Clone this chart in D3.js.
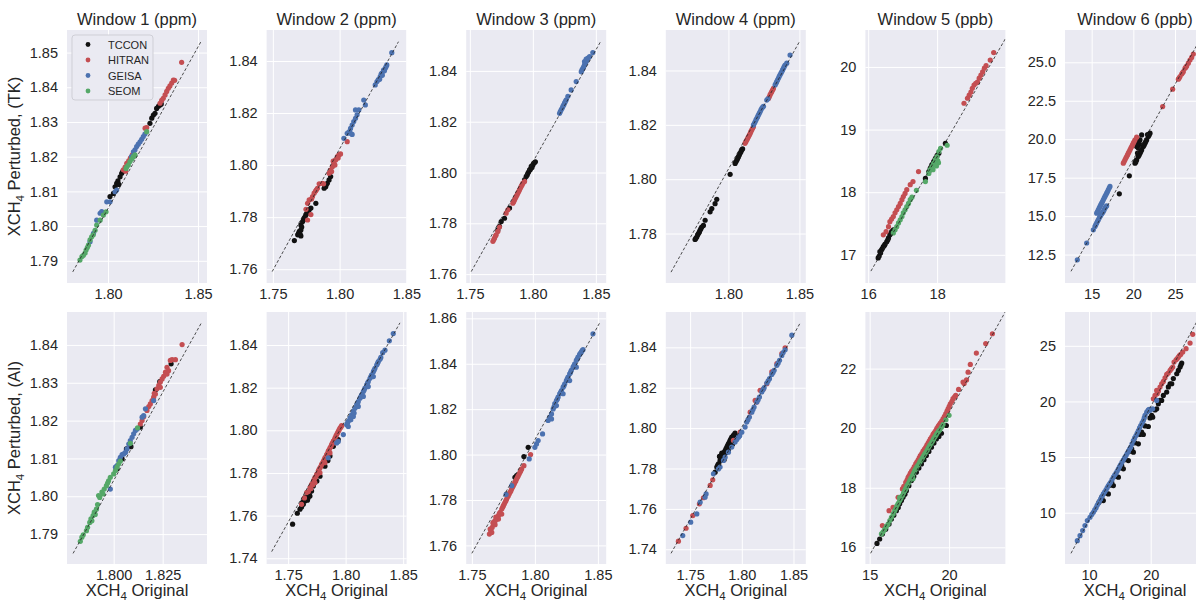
<!DOCTYPE html>
<html>
<head>
<meta charset="utf-8">
<script src="https://cdn.jsdelivr.net/npm/d3@7"></script>
<style>
  body { margin: 0; background: #fff; }
  text { font-family: "Liberation Sans", Arial, sans-serif; fill: #262626; }
</style>
</head>
<body>
<svg width="1196" height="602"></svg>
<script>
const sources = ['TCCON', 'HITRAN', 'GEISA', 'SEOM']
const colors = ['#111111', '#C44E52', '#4C72B0', '#55A868']
const titles = ['Window 1 (ppm)', 'Window 2 (ppm)', 'Window 3 (ppm)', 'Window 4 (ppm)', 'Window 5 (ppb)', 'Window 6 (ppb)']
const rowLabels = ['(TK)', '(AI)']

// axis limits, ticks and dashed reference line, one entry per panel (row 1 then row 2)
const xDomains = [[1.7772, 1.8550], [1.7453, 1.8502], [1.7471, 1.8582], [1.7559, 1.8545], [15.92, 19.98], [11.8, 28.6],
  [1.7762, 1.8476], [1.7313, 1.8530], [1.7455, 1.8566], [1.7265, 1.8619], [14.73, 23.55], [6.11, 28.8]]
const yDomains = [[1.7836, 1.8565], [1.7547, 1.8519], [1.7565, 1.8561], [1.7618, 1.8549], [16.55, 20.59], [10.65, 27.1],
  [1.7821, 1.8487], [1.7373, 1.8555], [1.7518, 1.8628], [1.7327, 1.8575], [15.44, 23.90], [5.39, 28.04]]
const xTicks = [[1.80, 1.85], [1.75, 1.80, 1.85], [1.75, 1.80, 1.85], [1.80, 1.85], [16, 18], [15, 20, 25],
  [1.800, 1.825], [1.75, 1.80, 1.85], [1.75, 1.80, 1.85], [1.75, 1.80, 1.85], [15, 20], [10, 20]]
const yTicks = [[1.79, 1.80, 1.81, 1.82, 1.83, 1.84, 1.85], [1.76, 1.78, 1.80, 1.82, 1.84], [1.76, 1.78, 1.80, 1.82, 1.84],
  [1.78, 1.80, 1.82, 1.84], [17, 18, 19, 20], [12.5, 15, 17.5, 20, 22.5, 25],
  [1.79, 1.80, 1.81, 1.82, 1.83, 1.84], [1.74, 1.76, 1.78, 1.80, 1.82, 1.84], [1.76, 1.78, 1.80, 1.82, 1.84, 1.86],
  [1.74, 1.76, 1.78, 1.80, 1.82, 1.84], [16, 18, 20, 22], [10, 15, 20, 25]]
const xFormats = ['.2f', '.2f', '.2f', '.2f', 'd', 'd', '.3f', '.2f', '.2f', '.2f', 'd', 'd']
const yFormats = ['.2f', '.2f', '.2f', '.2f', 'd', '.1f', '.2f', '.2f', '.2f', '.2f', 'd', 'd']
const refLines = [
  [[1.7804, 1.7868], [1.8517, 1.8532]], [[1.7495, 1.7591], [1.8441, 1.8474]], [[1.7511, 1.7610], [1.8537, 1.8515]],
  [[1.7596, 1.7658], [1.8500, 1.8506]], [[16.08, 16.74], [20.0, 20.47]], [[12.52, 11.41], [28.5, 26.97]],
  [[1.7793, 1.7849], [1.8447, 1.8458]], [[1.7357, 1.7431], [1.8472, 1.8504]], [[1.7500, 1.7565], [1.8513, 1.8579]],
  [[1.7316, 1.7380], [1.8565, 1.8521]], [[15.06, 15.80], [23.6, 23.96]], [[7.08, 6.35], [28.5, 28.22]]]

// scatter points [original, perturbed]
const w1tk = {
  TCCON: [[1.8030, 1.8094], [1.8039, 1.8113], [1.8048, 1.8123], [1.8055, 1.8130], [1.8067, 1.8142], [1.8076, 1.8152], [1.8082, 1.8158], [1.8011, 1.8085], [1.8233, 1.8296], [1.8243, 1.8311], [1.8252, 1.8320], [1.8261, 1.8325], [1.8270, 1.8339], [1.8280, 1.8345], [1.8289, 1.8349], [1.8296, 1.8352], [1.8060, 1.8120]],
  HITRAN: [[1.8085, 1.8162], [1.8095, 1.8170], [1.8104, 1.8181], [1.8115, 1.8188], [1.8124, 1.8196], [1.8135, 1.8205], [1.8206, 1.8282], [1.8215, 1.8284], [1.8289, 1.8354], [1.8298, 1.8362], [1.8307, 1.8368], [1.8317, 1.8378], [1.8326, 1.8388], [1.8335, 1.8397], [1.8344, 1.8404], [1.8354, 1.8412], [1.8363, 1.8421], [1.8370, 1.8420], [1.8409, 1.8472], [1.8098, 1.8158]],
  GEISA: [[1.7919, 1.7979], [1.7937, 1.8017], [1.7956, 1.8037], [1.7965, 1.8042], [1.7993, 1.8070], [1.8011, 1.8070], [1.8039, 1.8099], [1.8048, 1.8104], [1.8141, 1.8214], [1.8150, 1.8220], [1.8159, 1.8229], [1.8168, 1.8236], [1.8178, 1.8243], [1.8187, 1.8250], [1.8196, 1.8258], [1.8205, 1.8265], [1.7900, 1.7955], [1.8130, 1.8200]],
  SEOM: [[1.7844, 1.7902], [1.7855, 1.7912], [1.7863, 1.7916], [1.7878, 1.7931], [1.7885, 1.7938], [1.7891, 1.7945], [1.7900, 1.7960], [1.7909, 1.7969], [1.7918, 1.7975], [1.7928, 1.7988], [1.7937, 1.8003], [1.7956, 1.8017], [1.7974, 1.8032], [1.7989, 1.8041], [1.8100, 1.8166], [1.8104, 1.8171], [1.8113, 1.8176], [1.8122, 1.8186], [1.8132, 1.8193], [1.8141, 1.8200], [1.8150, 1.8205], [1.8215, 1.8272], [1.7872, 1.7922]]
}
const w2tk = {
  TCCON: [[1.7661, 1.7710], [1.7686, 1.7732], [1.7692, 1.7738], [1.7698, 1.7745], [1.7710, 1.7751], [1.7710, 1.7728], [1.7704, 1.7735], [1.7710, 1.7770], [1.7723, 1.7783], [1.7730, 1.7790], [1.7735, 1.7796], [1.7748, 1.7809], [1.7755, 1.7815], [1.7760, 1.7818], [1.7772, 1.7828], [1.7785, 1.7835], [1.7822, 1.7853], [1.7884, 1.7911], [1.7896, 1.7917], [1.7908, 1.7930], [1.7921, 1.7943], [1.7933, 1.7956], [1.7900, 1.7925], [1.7716, 1.7762], [1.7741, 1.7801], [1.7890, 1.7920]],
  HITRAN: [[1.7748, 1.7830], [1.7760, 1.7853], [1.7772, 1.7866], [1.7790, 1.7870], [1.7797, 1.7879], [1.7809, 1.7892], [1.7820, 1.7900], [1.7834, 1.7911], [1.7847, 1.7928], [1.7871, 1.7930], [1.7880, 1.7928], [1.7921, 1.7969], [1.7933, 1.7981], [1.7946, 1.7994], [1.7958, 1.8007], [1.7970, 1.8020], [1.7983, 1.8033], [1.7995, 1.8039], [1.8007, 1.8043], [1.8057, 1.8090], [1.7760, 1.7789], [1.7785, 1.7810], [1.7940, 1.7975], [1.7965, 1.8000], [1.7826, 1.7905], [1.7952, 1.8015], [1.7989, 1.8027]],
  GEISA: [[1.8032, 1.8103], [1.8057, 1.8122], [1.8070, 1.8128], [1.8082, 1.8141], [1.8094, 1.8154], [1.8106, 1.8167], [1.8119, 1.8180], [1.8131, 1.8193], [1.8119, 1.8212], [1.8144, 1.8212], [1.8181, 1.8250], [1.8193, 1.8231], [1.8267, 1.8308], [1.8280, 1.8321], [1.8290, 1.8328], [1.8304, 1.8340], [1.8317, 1.8353], [1.8329, 1.8365], [1.8342, 1.8372], [1.8354, 1.8385], [1.8391, 1.8432], [1.8082, 1.8122], [1.8094, 1.8118], [1.8300, 1.8330], [1.8320, 1.8345], [1.8311, 1.8350], [1.8336, 1.8362], [1.8348, 1.8378]],
  SEOM: []
}
const w3tk = {
  TCCON: [[1.7722, 1.7774], [1.7735, 1.7788], [1.7749, 1.7807], [1.7775, 1.7820], [1.7815, 1.7860], [1.7934, 1.7971], [1.7947, 1.7984], [1.7955, 1.7990], [1.7960, 1.7997], [1.7967, 1.8003], [1.7974, 1.8010], [1.7987, 1.8024], [1.8000, 1.8030], [1.8013, 1.8039], [1.8020, 1.8042], [1.7980, 1.8012], [1.7993, 1.8020], [1.8006, 1.8036]],
  HITRAN: [[1.7683, 1.7729], [1.7690, 1.7736], [1.7696, 1.7742], [1.7703, 1.7750], [1.7709, 1.7755], [1.7722, 1.7768], [1.7735, 1.7785], [1.7788, 1.7840], [1.7802, 1.7853], [1.7841, 1.7879], [1.7848, 1.7885], [1.7854, 1.7892], [1.7861, 1.7899], [1.7868, 1.7906], [1.7875, 1.7912], [1.7881, 1.7919], [1.7888, 1.7925], [1.7894, 1.7932], [1.7900, 1.7938], [1.7907, 1.7945], [1.7914, 1.7951], [1.7921, 1.7958], [1.7934, 1.7965]],
  GEISA: [[1.8212, 1.8233], [1.8218, 1.8240], [1.8225, 1.8247], [1.8232, 1.8253], [1.8238, 1.8260], [1.8245, 1.8266], [1.8251, 1.8273], [1.8258, 1.8280], [1.8265, 1.8286], [1.8278, 1.8300], [1.8304, 1.8325], [1.8344, 1.8358], [1.8384, 1.8397], [1.8390, 1.8404], [1.8397, 1.8410], [1.8404, 1.8417], [1.8410, 1.8424], [1.8417, 1.8430], [1.8423, 1.8437], [1.8430, 1.8444], [1.8437, 1.8450], [1.8450, 1.8456], [1.8476, 1.8472], [1.8410, 1.8437], [1.8423, 1.8446]],
  SEOM: []
}
const w4tk = {
  TCCON: [[1.7765, 1.7778], [1.7770, 1.7782], [1.7777, 1.7787], [1.7783, 1.7795], [1.7789, 1.7800], [1.7795, 1.7805], [1.7800, 1.7812], [1.7806, 1.7818], [1.7812, 1.7824], [1.7824, 1.7830], [1.7836, 1.7849], [1.7871, 1.7880], [1.7883, 1.7892], [1.7906, 1.7910], [1.7918, 1.7926], [1.8012, 1.8018], [1.8047, 1.8058], [1.8053, 1.8064], [1.8059, 1.8070], [1.8065, 1.8076], [1.8070, 1.8082], [1.8076, 1.8088], [1.8082, 1.8095], [1.8088, 1.8101], [1.8094, 1.8107], [1.8100, 1.8112]],
  HITRAN: [[1.8117, 1.8132], [1.8123, 1.8138], [1.8129, 1.8144], [1.8135, 1.8150], [1.8141, 1.8156], [1.8147, 1.8162], [1.8153, 1.8168], [1.8158, 1.8175], [1.8164, 1.8181], [1.8170, 1.8187], [1.8176, 1.8193], [1.8282, 1.8297], [1.8288, 1.8303], [1.8293, 1.8310], [1.8299, 1.8316], [1.8305, 1.8322], [1.8311, 1.8328], [1.8317, 1.8334]],
  GEISA: [[1.8176, 1.8199], [1.8182, 1.8205], [1.8188, 1.8211], [1.8194, 1.8218], [1.8200, 1.8224], [1.8206, 1.8230], [1.8211, 1.8236], [1.8217, 1.8242], [1.8223, 1.8248], [1.8229, 1.8255], [1.8235, 1.8261], [1.8241, 1.8265], [1.8247, 1.8268], [1.8270, 1.8291], [1.8278, 1.8296], [1.8329, 1.8347], [1.8335, 1.8353], [1.8340, 1.8359], [1.8346, 1.8365], [1.8352, 1.8371], [1.8358, 1.8378], [1.8364, 1.8384], [1.8370, 1.8390], [1.8376, 1.8396], [1.8382, 1.8402], [1.8387, 1.8408], [1.8393, 1.8414], [1.8399, 1.8420], [1.8411, 1.8427], [1.8434, 1.8457]],
  SEOM: []
}
const w5tk = {
  TCCON: [[16.29, 16.95], [16.32, 16.98], [16.36, 17.03], [16.39, 17.08], [16.44, 17.13], [16.49, 17.17], [16.54, 17.21], [16.59, 17.27], [16.63, 17.32], [16.68, 17.37], [16.73, 17.40], [17.66, 18.22], [17.76, 18.33], [17.80, 18.38], [17.85, 18.44], [17.90, 18.49], [17.95, 18.54], [18.00, 18.59], [18.05, 18.62], [18.24, 18.78], [16.34, 17.05], [16.41, 17.10], [16.47, 17.15], [16.57, 17.24], [16.66, 17.34], [17.83, 18.41], [17.93, 18.51]],
  HITRAN: [[16.44, 17.32], [16.52, 17.37], [16.59, 17.45], [16.63, 17.53], [16.68, 17.57], [16.73, 17.61], [16.78, 17.67], [16.83, 17.72], [16.88, 17.77], [16.93, 17.82], [16.98, 17.88], [17.02, 17.93], [17.07, 17.98], [17.12, 18.04], [17.22, 18.12], [17.30, 18.17], [17.46, 18.33], [18.78, 19.42], [18.88, 19.50], [18.93, 19.55], [18.98, 19.60], [19.02, 19.66], [19.07, 19.71], [19.12, 19.74], [19.17, 19.76], [19.22, 19.82], [19.27, 19.87], [19.32, 19.92], [19.37, 19.98], [19.42, 20.02], [19.54, 20.11], [19.64, 20.23]],
  GEISA: [],
  SEOM: [[16.73, 17.35], [16.78, 17.40], [16.83, 17.45], [16.88, 17.51], [16.93, 17.56], [16.98, 17.61], [17.02, 17.67], [17.07, 17.72], [17.12, 17.77], [17.17, 17.82], [17.22, 17.88], [17.27, 17.92], [17.40, 18.03], [17.66, 18.17], [17.76, 18.30], [17.80, 18.36], [17.85, 18.41], [17.90, 18.46], [17.95, 18.52], [18.00, 18.57], [18.05, 18.65], [18.10, 18.70], [18.29, 18.75], [18.02, 18.50], [17.98, 18.42], [17.88, 18.36], [18.04, 18.47]]
}
const w6tk = {
  TCCON: [[18.32, 16.45], [19.52, 17.62], [20.20, 18.44], [20.40, 18.66], [20.60, 18.87], [20.80, 19.09], [21.00, 19.31], [21.20, 19.52], [21.40, 19.74], [21.60, 19.96], [21.80, 20.17], [22.00, 20.39], [20.40, 19.52], [20.60, 19.74], [20.80, 19.96], [21.00, 20.28], [20.60, 19.42], [20.30, 18.60], [20.50, 19.10], [21.10, 19.60], [21.70, 20.30], [20.30, 18.52], [20.70, 18.98], [20.90, 19.20], [21.30, 19.62], [21.50, 19.85], [21.90, 20.28], [20.50, 19.63], [20.70, 19.85]],
  HITRAN: [[18.80, 18.44], [19.00, 18.66], [19.20, 18.87], [19.40, 19.09], [19.60, 19.31], [19.80, 19.52], [20.00, 19.74], [20.20, 19.96], [20.40, 20.13], [18.90, 18.55], [19.10, 18.77], [19.30, 18.98], [19.50, 19.20], [19.70, 19.42], [19.90, 19.63], [20.10, 19.85], [23.52, 22.12], [24.72, 23.25], [25.40, 23.90], [25.60, 24.07], [25.80, 24.24], [26.00, 24.39], [26.20, 24.61], [26.40, 24.76], [26.60, 24.94], [26.80, 25.15], [27.00, 25.32], [27.20, 25.54], [25.50, 23.98], [25.90, 24.32], [26.30, 24.68]],
  GEISA: [[13.28, 12.16], [14.40, 13.25], [15.20, 14.11], [15.40, 14.33], [15.60, 14.55], [15.80, 14.76], [16.00, 14.98], [16.20, 15.15], [16.40, 15.30], [16.60, 15.52], [16.80, 15.67], [15.60, 15.19], [15.80, 15.41], [16.00, 15.63], [16.20, 15.84], [16.40, 16.06], [16.60, 16.28], [16.80, 16.49], [17.00, 16.71], [17.20, 16.93], [15.70, 15.30], [15.90, 15.52], [16.10, 15.74], [16.30, 15.95], [16.50, 16.17], [16.70, 16.38], [16.90, 16.60], [17.10, 16.82], [15.50, 14.44], [15.70, 14.66], [15.90, 14.87], [16.10, 15.06], [16.30, 15.22], [16.50, 15.41], [16.70, 15.60]],
  SEOM: []
}
const w1ai = {
  TCCON: [[1.8017, 1.8072], [1.8043, 1.8099], [1.8065, 1.8125], [1.8088, 1.8131], [1.8136, 1.8183], [1.8213, 1.8281], [1.8235, 1.8303], [1.8293, 1.8350]],
  HITRAN: [[1.8136, 1.8191], [1.8145, 1.8200], [1.8153, 1.8210], [1.8170, 1.8227], [1.8179, 1.8237], [1.8187, 1.8244], [1.8196, 1.8253], [1.8204, 1.8262], [1.8207, 1.8272], [1.8213, 1.8270], [1.8221, 1.8284], [1.8230, 1.8293], [1.8238, 1.8302], [1.8238, 1.8288], [1.8247, 1.8310], [1.8255, 1.8317], [1.8264, 1.8328], [1.8272, 1.8341], [1.8272, 1.8323], [1.8280, 1.8332], [1.8289, 1.8359], [1.8298, 1.8361], [1.8315, 1.8361], [1.8349, 1.8401]],
  GEISA: [[1.7983, 1.8019], [1.8009, 1.8077], [1.8017, 1.8081], [1.8026, 1.8094], [1.8034, 1.8103], [1.8043, 1.8110], [1.8051, 1.8112], [1.8060, 1.8116], [1.8068, 1.8125], [1.8077, 1.8138], [1.8085, 1.8147], [1.8094, 1.8156], [1.8102, 1.8165], [1.8111, 1.8174], [1.8120, 1.8178], [1.8145, 1.8209], [1.8153, 1.8213], [1.8162, 1.8231], [1.8204, 1.8253]],
  SEOM: [[1.7830, 1.7881], [1.7838, 1.7892], [1.7845, 1.7898], [1.7861, 1.7909], [1.7867, 1.7918], [1.7878, 1.7931], [1.7884, 1.7940], [1.7895, 1.7949], [1.7901, 1.7958], [1.7912, 1.7966], [1.7918, 1.7978], [1.7929, 1.7997], [1.7940, 1.8011], [1.7952, 1.8019], [1.7963, 1.8028], [1.7974, 1.8041], [1.7983, 1.8050], [1.8000, 1.8059], [1.8009, 1.8068], [1.8017, 1.8077], [1.8026, 1.8086], [1.8034, 1.8093], [1.8085, 1.8140], [1.8122, 1.8181], [1.7923, 1.8002], [1.7889, 1.7935], [1.7906, 1.7952], [1.7946, 1.8006], [1.7969, 1.8035]]
}
const w2ai = {
  TCCON: [[1.7539, 1.7560], [1.7580, 1.7611], [1.7603, 1.7630], [1.7617, 1.7640], [1.7632, 1.7653], [1.7646, 1.7669], [1.7661, 1.7680], [1.7675, 1.7684], [1.7690, 1.7692], [1.7638, 1.7677], [1.7652, 1.7688], [1.7704, 1.7715], [1.7719, 1.7739], [1.7777, 1.7785], [1.7820, 1.7832], [1.7864, 1.7879], [1.7893, 1.7925], [1.7936, 1.7956], [1.7625, 1.7662], [1.7668, 1.7672], [1.7683, 1.7700], [1.7750, 1.7762], [1.7846, 1.7858]],
  HITRAN: [[1.7617, 1.7653], [1.7661, 1.7708], [1.7690, 1.7731], [1.7704, 1.7747], [1.7719, 1.7762], [1.7733, 1.7778], [1.7748, 1.7793], [1.7762, 1.7809], [1.7777, 1.7824], [1.7791, 1.7840], [1.7806, 1.7855], [1.7820, 1.7871], [1.7835, 1.7886], [1.7849, 1.7902], [1.7864, 1.7918], [1.7878, 1.7933], [1.7893, 1.7949], [1.7907, 1.7964], [1.7922, 1.7980], [1.7936, 1.7995], [1.7951, 1.8011], [1.7965, 1.8022], [1.7733, 1.7754], [1.7777, 1.7801], [1.7820, 1.7848], [1.7864, 1.7894], [1.7907, 1.7941], [1.7642, 1.7683], [1.7676, 1.7713], [1.7697, 1.7726], [1.7713, 1.7744], [1.7727, 1.7770], [1.7742, 1.7783], [1.7756, 1.7796], [1.7769, 1.7817], [1.7785, 1.7831], [1.7798, 1.7845], [1.7814, 1.7863], [1.7828, 1.7876], [1.7843, 1.7892], [1.7856, 1.7909], [1.7872, 1.7924], [1.7885, 1.7940], [1.7901, 1.7954], [1.7915, 1.7973], [1.7929, 1.7987], [1.7944, 1.8003], [1.7958, 1.8015]],
  GEISA: [[1.7849, 1.7871], [1.7922, 1.7941], [1.7936, 1.7948], [1.7980, 1.7980], [1.8009, 1.8026], [1.8023, 1.8042], [1.8038, 1.8058], [1.8052, 1.8073], [1.8067, 1.8089], [1.8081, 1.8104], [1.8096, 1.8120], [1.8110, 1.8135], [1.8125, 1.8151], [1.8139, 1.8166], [1.8154, 1.8182], [1.8168, 1.8198], [1.8183, 1.8213], [1.8197, 1.8229], [1.8212, 1.8244], [1.8226, 1.8260], [1.8241, 1.8275], [1.8255, 1.8291], [1.8270, 1.8306], [1.8284, 1.8322], [1.8299, 1.8333], [1.8322, 1.8364], [1.8342, 1.8376], [1.8380, 1.8420], [1.8414, 1.8454], [1.8023, 1.8018], [1.8067, 1.8065], [1.8110, 1.8112], [1.8154, 1.8159], [1.8197, 1.8205], [1.8241, 1.8252], [1.8016, 1.8034], [1.8045, 1.8050], [1.8074, 1.8081], [1.8103, 1.8127], [1.8132, 1.8158], [1.8161, 1.8189], [1.8190, 1.8221], [1.8219, 1.8252], [1.8248, 1.8283], [1.8277, 1.8314], [1.8306, 1.8342]],
  SEOM: []
}
const w3ai = {
  TCCON: [[1.7842, 1.7900], [1.7855, 1.7907], [1.7913, 1.7991], [1.7947, 1.8032], [1.7776, 1.7826]],
  HITRAN: [[1.7639, 1.7650], [1.7650, 1.7665], [1.7661, 1.7679], [1.7671, 1.7694], [1.7682, 1.7706], [1.7697, 1.7716], [1.7711, 1.7731], [1.7724, 1.7746], [1.7737, 1.7760], [1.7750, 1.7775], [1.7763, 1.7790], [1.7776, 1.7804], [1.7789, 1.7819], [1.7803, 1.7834], [1.7816, 1.7849], [1.7829, 1.7863], [1.7842, 1.7878], [1.7855, 1.7893], [1.7868, 1.7907], [1.7882, 1.7922], [1.7895, 1.7937], [1.7913, 1.7951], [1.7966, 1.8000], [1.7658, 1.7657], [1.7684, 1.7691], [1.7711, 1.7716], [1.7737, 1.7738], [1.7684, 1.7709], [1.7645, 1.7672], [1.7667, 1.7700], [1.7690, 1.7725], [1.7718, 1.7740], [1.7744, 1.7768], [1.7757, 1.7782], [1.7770, 1.7797], [1.7783, 1.7812], [1.7796, 1.7826], [1.7810, 1.7841], [1.7822, 1.7856], [1.7836, 1.7870], [1.7849, 1.7885], [1.7862, 1.7900], [1.7875, 1.7914], [1.7888, 1.7929]],
  GEISA: [[1.7771, 1.7824], [1.7816, 1.7863], [1.7955, 1.7981], [1.8000, 1.8032], [1.8013, 1.8047], [1.8026, 1.8062], [1.8061, 1.8091], [1.8105, 1.8150], [1.8118, 1.8165], [1.8132, 1.8179], [1.8145, 1.8201], [1.8158, 1.8224], [1.8171, 1.8238], [1.8184, 1.8253], [1.8197, 1.8268], [1.8211, 1.8282], [1.8224, 1.8297], [1.8237, 1.8312], [1.8250, 1.8326], [1.8263, 1.8341], [1.8276, 1.8356], [1.8289, 1.8371], [1.8303, 1.8385], [1.8316, 1.8400], [1.8329, 1.8415], [1.8342, 1.8429], [1.8355, 1.8441], [1.8368, 1.8451], [1.8382, 1.8462], [1.8461, 1.8532], [1.8132, 1.8157], [1.8171, 1.8216], [1.8224, 1.8268], [1.8276, 1.8326], [1.8329, 1.8385], [1.8152, 1.8210], [1.8178, 1.8244], [1.8204, 1.8274], [1.8231, 1.8303], [1.8257, 1.8333], [1.8283, 1.8362], [1.8309, 1.8391], [1.8336, 1.8421], [1.8361, 1.8446], [1.8375, 1.8458]],
  SEOM: []
}
const w4ai = {
  TCCON: [[1.7742, 1.7782], [1.7758, 1.7807], [1.7774, 1.7823], [1.7790, 1.7840], [1.7806, 1.7856], [1.7823, 1.7873], [1.7839, 1.7889], [1.7855, 1.7906], [1.7871, 1.7922], [1.7887, 1.7939], [1.7903, 1.7955], [1.7919, 1.7964], [1.7935, 1.7975], [1.7806, 1.7876], [1.7784, 1.7860], [1.7829, 1.7843], [1.7871, 1.7889], [1.7910, 1.7920], [1.7766, 1.7815], [1.7798, 1.7848], [1.7815, 1.7865], [1.7831, 1.7881], [1.7847, 1.7897], [1.7863, 1.7914], [1.7879, 1.7930], [1.7895, 1.7947], [1.7927, 1.7968], [1.7852, 1.7880], [1.7890, 1.7912]],
  HITRAN: [[1.7387, 1.7440], [1.7461, 1.7504], [1.7526, 1.7567], [1.7590, 1.7625], [1.7629, 1.7655], [1.7694, 1.7716], [1.7719, 1.7744], [1.7919, 1.7939], [1.7984, 1.7980], [1.8081, 1.8079], [1.8129, 1.8137], [1.8177, 1.8187], [1.8242, 1.8220], [1.8290, 1.8278], [1.8339, 1.8319], [1.8387, 1.8369], [1.8419, 1.8398], [1.8145, 1.8129], [1.8210, 1.8195]],
  GEISA: [[1.7429, 1.7468], [1.7506, 1.7534], [1.7565, 1.7575], [1.7597, 1.7633], [1.7645, 1.7658], [1.7655, 1.7674], [1.7790, 1.7807], [1.7823, 1.7840], [1.7839, 1.7856], [1.7871, 1.7881], [1.7903, 1.7906], [1.7935, 1.7931], [1.7968, 1.7955], [1.8000, 1.7980], [1.8032, 1.8005], [1.8048, 1.8030], [1.8074, 1.8055], [1.8097, 1.8079], [1.8119, 1.8104], [1.8145, 1.8129], [1.8171, 1.8154], [1.8194, 1.8179], [1.8216, 1.8200], [1.8242, 1.8223], [1.8268, 1.8245], [1.8290, 1.8266], [1.8313, 1.8286], [1.8339, 1.8311], [1.8365, 1.8336], [1.8387, 1.8360], [1.8419, 1.8388], [1.8484, 1.8460], [1.7726, 1.7774], [1.7774, 1.7798], [1.8060, 1.8042], [1.8108, 1.8092], [1.8158, 1.8141], [1.8205, 1.8190], [1.8255, 1.8234], [1.8302, 1.8276], [1.8352, 1.8323], [1.8400, 1.8374], [1.7980, 1.7962], [1.7952, 1.7943]],
  SEOM: []
}
const w5ai = {
  TCCON: [[15.46, 16.13], [15.63, 16.28], [15.80, 16.45], [16.01, 16.61], [16.22, 16.78], [16.37, 16.95], [16.68, 17.23], [16.89, 17.46], [17.10, 17.68], [17.31, 17.90], [17.63, 18.24], [17.94, 18.52], [18.26, 18.80], [18.57, 19.08], [18.89, 19.36], [19.20, 19.64], [19.52, 19.83], [19.83, 20.09], [16.52, 17.08], [16.80, 17.33], [17.00, 17.57], [17.22, 17.78], [17.47, 18.07], [17.78, 18.38], [18.10, 18.66], [18.42, 18.94], [18.73, 19.22], [19.05, 19.50], [19.36, 19.72]],
  HITRAN: [[15.80, 16.73], [16.22, 17.23], [16.47, 17.34], [16.79, 17.68], [17.06, 17.96], [17.27, 18.18], [17.42, 18.35], [17.56, 18.49], [17.73, 18.63], [17.90, 18.80], [18.05, 18.93], [18.19, 19.08], [18.36, 19.23], [18.53, 19.36], [18.68, 19.50], [18.82, 19.64], [18.99, 19.79], [19.16, 19.92], [19.31, 20.06], [19.45, 20.17], [19.62, 20.31], [19.79, 20.48], [19.94, 20.65], [20.08, 20.82], [20.25, 20.99], [20.42, 21.10], [20.88, 21.55], [21.20, 21.88], [21.34, 22.14], [21.72, 22.52], [22.31, 22.84], [22.73, 23.17], [17.15, 18.05], [17.35, 18.26], [17.49, 18.41], [17.64, 18.56], [17.81, 18.71], [17.97, 18.86], [18.12, 19.00], [18.28, 19.15], [18.45, 19.30], [18.60, 19.43], [18.75, 19.57], [18.91, 19.71], [19.07, 19.85], [19.23, 19.99], [19.38, 20.11], [19.54, 20.24], [19.71, 20.40], [19.87, 20.57], [20.01, 20.73], [20.18, 20.90], [20.35, 21.05], [20.60, 21.30], [20.95, 21.50], [21.10, 21.62]],
  GEISA: [],
  SEOM: [[15.74, 16.45], [15.95, 16.61], [16.16, 16.78], [16.37, 17.01], [16.58, 17.23], [16.72, 17.40], [16.89, 17.57], [17.06, 17.74], [17.21, 17.90], [17.35, 18.07], [17.52, 18.24], [17.69, 18.41], [17.84, 18.58], [17.98, 18.71], [18.15, 18.86], [18.32, 19.00], [18.47, 19.14], [18.63, 19.27], [18.78, 19.42], [18.95, 19.56], [19.10, 19.70], [19.24, 19.83], [19.41, 19.94], [19.62, 20.12], [20.00, 20.43], [16.89, 17.68], [17.27, 17.96], [17.73, 18.30], [15.85, 16.52], [16.05, 16.70], [16.27, 16.90], [16.48, 17.12], [16.65, 17.31], [16.80, 17.48], [16.97, 17.65], [17.13, 17.82], [17.28, 17.98], [17.44, 18.15], [17.60, 18.32], [17.77, 18.49], [17.91, 18.64], [18.07, 18.78], [18.23, 18.93], [18.40, 19.07], [18.55, 19.20], [18.70, 19.35], [18.87, 19.49], [19.02, 19.63], [19.17, 19.76], [19.33, 19.89], [19.52, 20.03], [19.80, 20.28]]
}
const w6ai = {
  TCCON: [[12.32, 11.09], [13.14, 11.69], [13.95, 12.44], [14.76, 13.19], [15.57, 13.94], [16.38, 14.69], [17.19, 15.44], [18.00, 16.19], [18.81, 17.03], [19.62, 17.75], [20.32, 18.59], [20.97, 19.34], [21.78, 20.09], [22.59, 20.84], [23.41, 21.59], [24.22, 22.49], [24.76, 23.09], [25.03, 23.45], [12.05, 11.39], [13.68, 12.74], [15.30, 14.24], [16.92, 15.74], [18.54, 17.24], [20.16, 18.74], [21.51, 20.09], [23.14, 21.59], [11.62, 10.95], [12.71, 11.78], [13.41, 12.47], [14.22, 13.26], [15.03, 14.02], [15.84, 14.77], [16.65, 15.53], [17.46, 16.28], [18.27, 17.03], [19.08, 17.80], [19.89, 18.52], [20.70, 19.24], [21.24, 19.79], [22.05, 20.54], [22.86, 21.31], [23.67, 22.06], [24.48, 22.79], [24.90, 23.30]],
  HITRAN: [[20.43, 20.24], [20.70, 20.54], [20.97, 20.99], [21.51, 21.29], [21.78, 21.59], [22.32, 22.13], [22.59, 22.43], [23.14, 22.79], [23.57, 23.09], [23.78, 23.54], [24.11, 23.75], [24.49, 23.99], [24.86, 24.23], [25.19, 24.44], [25.73, 24.74], [26.38, 25.25], [26.81, 26.03], [21.05, 20.70], [21.25, 20.95], [22.05, 21.80], [22.85, 22.55], [23.35, 22.95], [24.30, 23.85], [24.65, 24.12]],
  GEISA: [[8.11, 7.49], [8.54, 7.94], [8.97, 8.39], [9.35, 8.84], [9.73, 9.29], [10.16, 9.59], [10.70, 10.04], [11.14, 10.43], [11.51, 10.85], [11.89, 11.24], [12.32, 11.69], [12.76, 12.05], [13.14, 12.44], [13.51, 12.74], [13.95, 13.19], [14.38, 13.55], [14.76, 13.94], [15.14, 14.33], [15.57, 14.75], [16.00, 15.14], [16.38, 15.53], [16.76, 15.89], [17.19, 16.49], [17.62, 16.94], [18.00, 17.39], [18.38, 17.84], [18.81, 18.29], [19.08, 18.74], [19.35, 19.04], [19.62, 19.25], [19.90, 19.20], [20.32, 19.34], [20.97, 20.09], [10.45, 9.85], [10.92, 10.25], [11.32, 10.66], [11.70, 11.05], [12.10, 11.47], [12.54, 11.87], [12.95, 12.25], [13.33, 12.60], [13.73, 12.98], [14.16, 13.38], [14.57, 13.75], [14.95, 14.14], [15.35, 14.55], [15.78, 14.96], [16.19, 15.34], [16.57, 15.72], [16.97, 16.19], [17.40, 16.72], [17.81, 17.16], [18.19, 17.62], [18.60, 18.07], [18.95, 18.52], [19.50, 19.12], [19.78, 19.30]],
  SEOM: []
}
const panels = [w1tk, w2tk, w3tk, w4tk, w5tk, w6tk, w1ai, w2ai, w3ai, w4ai, w5ai, w6ai]

const svg = d3.select('svg')
const pw = 140
const tops = [30, 312]
const heights = [253, 252]
const font = 'Liberation Sans, Arial, sans-serif'

panels.forEach((pts, i) => {
  const row = Math.floor(i / 6)
  const col = i % 6
  const left = 67 + col * 199.6
  const top = tops[row]
  const ph = heights[row]

  const x = d3.scaleLinear().domain(xDomains[i]).range([0, pw])
  const y = d3.scaleLinear().domain(yDomains[i]).range([ph, 0])

  const g = svg.append('g').attr('transform', `translate(${left},${top})`)

  g.append('rect').attr('width', pw).attr('height', ph).attr('fill', '#EAEAF2')

  // grid
  g.append('g')
    .call(d3.axisBottom(x).tickValues(xTicks[i]).tickSize(ph).tickFormat(''))
    .call(a => a.select('.domain').remove())
    .call(a => a.selectAll('line').attr('stroke', '#fff').attr('stroke-width', 1))
  g.append('g')
    .call(d3.axisLeft(y).tickValues(yTicks[i]).tickSize(-pw).tickFormat(''))
    .call(a => a.select('.domain').remove())
    .call(a => a.selectAll('line').attr('stroke', '#fff').attr('stroke-width', 1))

  // tick labels
  g.append('g')
    .attr('transform', `translate(0,${ph})`)
    .call(d3.axisBottom(x).tickValues(xTicks[i]).tickSize(0).tickPadding(6).tickFormat(d3.format(xFormats[i])))
    .call(a => a.select('.domain').remove())
    .call(a => a.selectAll('text').attr('font-size', 14.5).attr('fill', '#262626').attr('font-family', font))
  g.append('g')
    .call(d3.axisLeft(y).tickValues(yTicks[i]).tickSize(0).tickPadding(9).tickFormat(d3.format(yFormats[i])))
    .call(a => a.select('.domain').remove())
    .call(a => a.selectAll('text').attr('font-size', 14.5).attr('fill', '#262626').attr('font-family', font))

  const clipId = 'clip' + i
  g.append('clipPath').attr('id', clipId)
    .append('rect').attr('width', pw).attr('height', ph)
  const plot = g.append('g').attr('clip-path', `url(#${clipId})`)

  sources.forEach((s, k) => {
    plot.append('g')
      .selectAll('circle')
      .data(pts[s])
      .join('circle')
      .attr('cx', d => x(d[0]))
      .attr('cy', d => y(d[1]))
      .attr('r', 2.6)
      .attr('fill', colors[k])
  })

  plot.append('line')
    .attr('x1', x(refLines[i][0][0])).attr('y1', y(refLines[i][0][1]))
    .attr('x2', x(refLines[i][1][0])).attr('y2', y(refLines[i][1][1]))
    .attr('stroke', '#222').attr('stroke-width', 0.8).attr('stroke-dasharray', '3,2')

  if (row === 0) {
    g.append('text')
      .attr('x', pw / 2).attr('y', -5)
      .attr('text-anchor', 'middle')
      .attr('font-size', 16.5)
      .text(titles[col])
  } else {
    const t = g.append('text')
      .attr('x', pw / 2).attr('y', ph + 32)
      .attr('text-anchor', 'middle')
      .attr('font-size', 16.5)
    t.append('tspan').text('XCH')
    t.append('tspan').attr('font-size', 11.5).attr('dy', 3.5).text('4')
    t.append('tspan').attr('dy', -3.5).text(' Original')
  }

  if (col === 0) {
    const t = g.append('text')
      .attr('transform', `translate(-47,${ph / 2}) rotate(-90)`)
      .attr('text-anchor', 'middle')
      .attr('font-size', 16.5)
    t.append('tspan').text('XCH')
    t.append('tspan').attr('font-size', 11.5).attr('dy', 3.5).text('4')
    t.append('tspan').attr('dy', -3.5).text(' Perturbed, ' + rowLabels[row])
  }

  if (i === 0) {
    const lg = g.append('g').attr('transform', 'translate(5,5)')
    lg.append('rect')
      .attr('width', 81).attr('height', 65).attr('rx', 3)
      .attr('fill', '#EAEAF2').attr('stroke', '#cfcfd6').attr('stroke-width', 1)
    sources.forEach((s, k) => {
      lg.append('circle').attr('cx', 16).attr('cy', 9.5 + k * 15.5).attr('r', 2.4).attr('fill', colors[k])
      lg.append('text').attr('x', 36).attr('y', 13.5 + k * 15.5).attr('font-size', 11).text(s)
    })
  }
})
</script>
</body>
</html>
